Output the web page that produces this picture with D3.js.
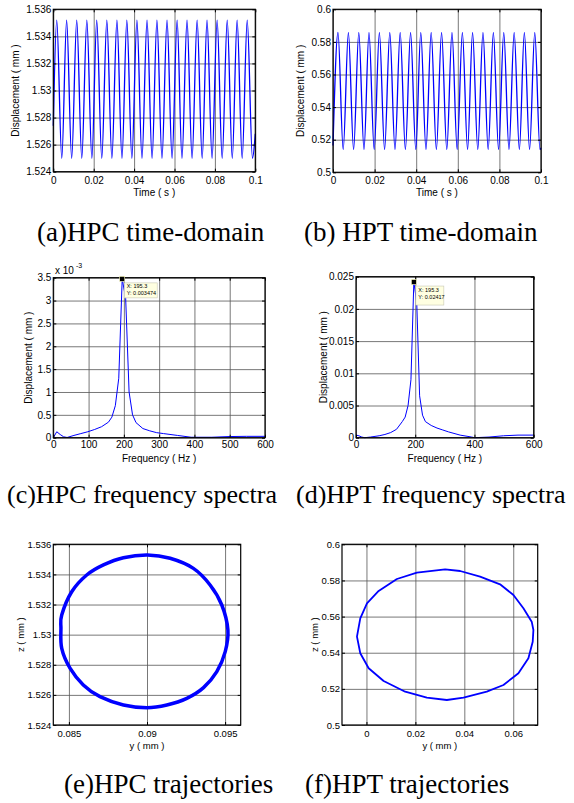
<html>
<head>
<style type="text/css">
	body { margin: 0; background: #fff; }
	text { font-family: "Liberation Sans", Arial, sans-serif; fill: #000; }
	.cap { font-family: "Liberation Serif", "Times New Roman", serif; }
	.grid line { stroke: #555; stroke-width: 0.8; }
	.grid path { display: none; }
	.ax path { display: none; }
	.ax line { stroke: #000; }
	.frame { fill: none; stroke: #000; stroke-width: 1.2; }
	.trace { fill: none; stroke: #0000ff; }
</style>
<script src="https://d3js.org/d3.v7.min.js"></script>
</head>
<body>
<script type="text/javascript">

// (a) HPC time-domain : extrema of the displacement signal
var hpcT = [0, 0.0017, 0.0042, 0.0066, 0.0091, 0.0116, 0.0141, 0.0166, 0.0191, 0.0215, 0.0240,
	0.0265, 0.0290, 0.0315, 0.0340, 0.0364, 0.0389, 0.0414, 0.0439, 0.0464, 0.0489,
	0.0513, 0.0538, 0.0563, 0.0588, 0.0613, 0.0637, 0.0662, 0.0687, 0.0712, 0.0737,
	0.0761, 0.0786, 0.0811, 0.0836, 0.0861, 0.0886, 0.0910, 0.0935, 0.0960, 0.0986, 0.1];
var hpcDisp = [1.5274, 1.5352, 1.5250, 1.5352, 1.5250, 1.5352, 1.5250, 1.5352, 1.5250, 1.5352, 1.5250,
	1.5352, 1.5250, 1.5352, 1.5250, 1.5352, 1.5250, 1.5352, 1.5250, 1.5352, 1.5250,
	1.5352, 1.5250, 1.5352, 1.5250, 1.5352, 1.5250, 1.5352, 1.5250, 1.5352, 1.5250,
	1.5352, 1.5250, 1.5352, 1.5250, 1.5352, 1.5250, 1.5352, 1.5250, 1.5352, 1.5250, 1.5268];

// (b) HPT time-domain
var hptT = [0, 0.0024, 0.0049, 0.0074, 0.0099, 0.0124, 0.0149, 0.0173, 0.0198, 0.0223, 0.0248,
	0.0273, 0.0298, 0.0323, 0.0348, 0.0373, 0.0398, 0.0422, 0.0447, 0.0472, 0.0497,
	0.0522, 0.0547, 0.0572, 0.0597, 0.0622, 0.0647, 0.0671, 0.0696, 0.0721, 0.0746,
	0.0771, 0.0796, 0.0821, 0.0846, 0.0871, 0.0896, 0.0920, 0.0945, 0.0970, 0.0995, 0.1];
var hptDisp = [0.5165, 0.5859, 0.5139, 0.5859, 0.5139, 0.5859, 0.5139, 0.5859, 0.5139, 0.5859, 0.5139,
	0.5859, 0.5139, 0.5859, 0.5139, 0.5859, 0.5139, 0.5859, 0.5139, 0.5859, 0.5139,
	0.5859, 0.5139, 0.5859, 0.5139, 0.5859, 0.5139, 0.5859, 0.5139, 0.5859, 0.5139,
	0.5859, 0.5139, 0.5859, 0.5139, 0.5859, 0.5139, 0.5859, 0.5139, 0.5859, 0.5139, 0.5150];

// (c) HPC spectrum (amplitude x 1e-3 mm)
var hpcFreq = [0, 9.8, 19.5, 29.3, 39.1, 58.6, 78.1, 97.7, 117.2, 136.7, 156.3, 166.0, 175.8, 185.5,
	195.3, 205.1, 214.8, 224.6, 234.4, 253.9, 273.4, 293.0, 312.5, 351.6, 390.6, 449.2, 498.0, 547.0, 600];
var hpcAmp = [0, 0.13, 0.07, 0.02, 0.005, 0.05, 0.09, 0.13, 0.18, 0.24, 0.34, 0.45, 0.7, 1.3,
	3.474, 3.05, 1.0, 0.5, 0.33, 0.2, 0.15, 0.11, 0.09, 0.05, 0.01, 0.01, 0.025, 0.03, 0.03];

// (d) HPT spectrum (mm)
var hptFreq = [0, 9.8, 19.5, 29.3, 48.8, 78.1, 97.7, 117.2, 136.7, 156.3, 166.0, 175.8, 185.5,
	195.3, 205.1, 214.8, 224.6, 234.4, 253.9, 273.4, 293.0, 312.5, 351.6, 390.6, 400, 449.2, 498.0, 547.0, 600];
var hptAmp = [0.0004, 0.0003, 0.0001, 0, 0.0001, 0.0003, 0.0005, 0.0008, 0.0013, 0.0025, 0.0032, 0.005, 0.009,
	0.02417, 0.021, 0.0065, 0.0035, 0.0025, 0.0019, 0.0015, 0.0012, 0.0009, 0.0004, 0.0001, 0, 0.0001, 0.0003, 0.0004, 0.0004];

// (e) HPC trajectory, y vs z
var hpcOrbY = [0.08449, 0.08454, 0.08507, 0.08592, 0.08699, 0.08849, 0.08999, 0.09127, 0.09255, 0.09362, 0.09447, 0.09501,
	0.09518, 0.09479, 0.09404, 0.09297, 0.09148, 0.09003, 0.08849, 0.08721, 0.08614, 0.08518, 0.08454];
var hpcOrbZ = [1.53042, 1.52909, 1.52777, 1.52666, 1.52588, 1.52533, 1.52515, 1.52533, 1.52577, 1.52648, 1.52754, 1.52887,
	1.53031, 1.53197, 1.5333, 1.5344, 1.53507, 1.53529, 1.53511, 1.53463, 1.53396, 1.53285, 1.53131];

// (f) HPT trajectory
var hptOrbY = [-0.00388, -0.00253, 0.0002, 0.00498, 0.01245, 0.02061, 0.03216, 0.03829, 0.04645, 0.05461, 0.06008, 0.06416, 0.06755,
	0.06824, 0.06796, 0.0662, 0.06212, 0.056, 0.04918, 0.03967, 0.03286, 0.02469, 0.01584, 0.00702, 0.0009, -0.00253];
var hptOrbZ = [0.54887, 0.55905, 0.56735, 0.57416, 0.5808, 0.58428, 0.58616, 0.58522, 0.58207, 0.57786, 0.57194, 0.56458, 0.55717,
	0.55257, 0.5461, 0.53691, 0.52861, 0.52214, 0.51843, 0.51511, 0.51383, 0.51511, 0.51843, 0.52435, 0.53138, 0.53968];

// tick values and labels
var timeTicks = [0, 0.02, 0.04, 0.06, 0.08, 0.1];
var timeLabels = ["0", "0.02", "0.04", "0.06", "0.08", "0.1"];
var hpcZTicks = [1.524, 1.526, 1.528, 1.53, 1.532, 1.534, 1.536];
var hpcZLabels = ["1.524", "1.526", "1.528", "1.53", "1.532", "1.534", "1.536"];
var hptZTicks = [0.5, 0.52, 0.54, 0.56, 0.58, 0.6];
var hptZLabels = ["0.5", "0.52", "0.54", "0.56", "0.58", "0.6"];
var freqTicksC = [0, 100, 200, 300, 400, 500, 600];
var freqTicksD = [0, 200, 400, 600];
var ampTicksC = [0, 0.5, 1, 1.5, 2, 2.5, 3, 3.5];
var ampLabelsC = ["0", "0.5", "1", "1.5", "2", "2.5", "3", "3.5"];
var ampTicksD = [0, 0.005, 0.01, 0.015, 0.02, 0.025];
var ampLabelsD = ["0", "0.005", "0.01", "0.015", "0.02", "0.025"];
var hpcOrbYTicks = [0.085, 0.09, 0.095];
var hpcOrbYLabels = ["0.085", "0.09", "0.095"];
var hptOrbYTicks = [0, 0.02, 0.04, 0.06];
var hptOrbYLabels = ["0", "0.02", "0.04", "0.06"];

var captions = ["(a)HPC time-domain", "(b) HPT time-domain", "(c)HPC frequency spectra",
	"(d)HPT frequency spectra", "(e)HPC trajectories", "(f)HPT trajectories"];

var svg = d3.select('body').append('svg')
	.attr('width', 574)
	.attr('height', 803);

function zip(a, b) {
	return a.map(function(d, i) { return [d, b[i]]; });
}

function draw_panel(p) {
	var g = svg.append('g');
	var x = d3.scaleLinear().domain(p.xd).range([p.l, p.r]);
	var y = d3.scaleLinear().domain(p.yd).range([p.b, p.t]);
	var w = p.r - p.l, h = p.b - p.t;

	// grid
	g.append('g').attr('class', 'grid')
		.attr('transform', 'translate(0,' + p.b + ')')
		.call(d3.axisBottom(x).tickValues(p.xt).tickSize(-h).tickFormat(''));
	g.append('g').attr('class', 'grid')
		.attr('transform', 'translate(' + p.l + ',0)')
		.call(d3.axisLeft(y).tickValues(p.yt).tickSize(-w).tickFormat(''));

	// trace
	g.append('path')
		.attr('class', 'trace')
		.attr('stroke-width', p.sw)
		.attr('stroke-linejoin', 'round')
		.attr('d', d3.line()
			.x(function(d) { return x(d[0]); })
			.y(function(d) { return y(d[1]); })
			.curve(p.curve)(p.data));

	// axes with inside ticks
	var fs = p.fs || 10;
	var bx = g.append('g').attr('class', 'ax')
		.attr('transform', 'translate(0,' + p.b + ')')
		.call(d3.axisBottom(x).tickValues(p.xt).tickSize(-3).tickPadding(p.xpad || 5)
			.tickFormat(function(d, i) { return p.xl[i]; }));
	bx.selectAll('text').style('font-size', fs + 'px');
	var ly = g.append('g').attr('class', 'ax')
		.attr('transform', 'translate(' + p.l + ',0)')
		.call(d3.axisLeft(y).tickValues(p.yt).tickSize(-3).tickPadding(2)
			.tickFormat(function(d, i) { return p.yl[i]; }));
	ly.selectAll('text').style('font-size', fs + 'px');
	g.append('g').attr('class', 'ax')
		.attr('transform', 'translate(0,' + p.t + ')')
		.call(d3.axisTop(x).tickValues(p.xt).tickSize(-3).tickFormat(''));
	g.append('g').attr('class', 'ax')
		.attr('transform', 'translate(' + p.r + ',0)')
		.call(d3.axisRight(y).tickValues(p.yt).tickSize(-3).tickFormat(''));

	g.append('rect').attr('class', 'frame')
		.attr('x', p.l).attr('y', p.t).attr('width', w).attr('height', h);

	// axis titles
	g.append('text')
		.attr('x', (p.l + p.r) / 2).attr('y', p.xty)
		.attr('text-anchor', 'middle')
		.style('font-size', fs + 'px')
		.text(p.xtitle);
	g.append('text')
		.attr('transform', 'translate(' + p.ytx + ',' + (p.t + p.b) / 2 + ') rotate(-90)')
		.attr('text-anchor', 'middle')
		.style('font-size', fs + 'px')
		.text(p.ytitle);

	return {x: x, y: y, g: g};
}

function datatip(pn, fx, fy, bw, bh, l1, l2) {
	var mx = pn.x(fx), my = pn.y(fy);
	pn.g.append('rect')
		.attr('x', mx + 2).attr('y', my + 4)
		.attr('width', bw).attr('height', bh)
		.attr('fill', '#ffffe1').attr('stroke', '#c8c8b4').attr('stroke-width', 0.6);
	pn.g.append('rect')
		.attr('x', mx - 2.5).attr('y', my - 2.5)
		.attr('width', 5).attr('height', 5)
		.attr('fill', '#000').attr('stroke', '#ffffc0').attr('stroke-width', 0.6);
	pn.g.append('text').attr('x', mx + 4.5).attr('y', my + 9.5)
		.style('font-size', '5.5px').text(l1);
	pn.g.append('text').attr('x', mx + 4.5).attr('y', my + 16.5)
		.style('font-size', '5.5px').text(l2);
}

draw_panel({l: 53.3, r: 255.3, t: 9.3, b: 171.7, xd: [0, 0.1], yd: [1.524, 1.536],
	xt: timeTicks, xl: timeLabels, yt: hpcZTicks, yl: hpcZLabels,
	xtitle: 'Time ( s )', xty: 196, ytitle: 'Displacement ( mm )', ytx: 19,
	data: zip(hpcT, hpcDisp), curve: d3.curveMonotoneX, sw: 1.3});

draw_panel({l: 333, r: 541, t: 9.3, b: 172.3, xd: [0, 0.1], yd: [0.5, 0.6],
	xt: timeTicks, xl: timeLabels, yt: hptZTicks, yl: hptZLabels,
	xtitle: 'Time ( s )', xty: 196, ytitle: 'Displacement ( mm )', ytx: 304,
	data: zip(hptT, hptDisp), curve: d3.curveMonotoneX, sw: 1.3});

var pc = draw_panel({l: 53.3, r: 265, t: 277.7, b: 437.7, xd: [0, 600], yd: [0, 3.5],
	xt: freqTicksC, xl: freqTicksC.map(String), yt: ampTicksC, yl: ampLabelsC,
	xtitle: 'Frequency ( Hz )', xty: 462, ytitle: 'Displacement ( mm )', ytx: 32, xpad: 3.5,
	data: zip(hpcFreq, hpcAmp), curve: d3.curveLinear, sw: 1});
pc.g.append('text').attr('x', 55).attr('y', 273.5).style('font-size', '10px').text('x 10');
pc.g.append('text').attr('x', 76).attr('y', 268).style('font-size', '7px').text('-3');
datatip(pc, 195.3, 3.474, 33, 15, 'X: 195.3', 'Y: 0.003474');

var pd = draw_panel({l: 356, r: 533.7, t: 276.7, b: 437.7, xd: [0, 600], yd: [0, 0.025],
	xt: freqTicksD, xl: freqTicksD.map(String), yt: ampTicksD, yl: ampLabelsD,
	xtitle: 'Frequency ( Hz )', xty: 462, ytitle: 'Displacement ( mm )', ytx: 327, xpad: 3.5,
	data: zip(hptFreq, hptAmp), curve: d3.curveLinear, sw: 1});
datatip(pd, 195.3, 0.02417, 28, 19, 'X: 195.3', 'Y: 0.02417');

draw_panel({l: 53.3, r: 240.7, t: 544.3, b: 725, xd: [0.084, 0.096], yd: [1.524, 1.536],
	xt: hpcOrbYTicks, xl: hpcOrbYLabels, yt: hpcZTicks, yl: hpcZLabels,
	xtitle: 'y ( mm )', xty: 749, ytitle: 'z ( mm )', ytx: 24, fs: 9.5,
	data: zip(hpcOrbY, hpcOrbZ), curve: d3.curveCardinalClosed, sw: 3.5});

draw_panel({l: 342, r: 537.7, t: 544.3, b: 725, xd: [-0.01, 0.07], yd: [0.5, 0.6],
	xt: hptOrbYTicks, xl: hptOrbYLabels, yt: hptZTicks, yl: hptZLabels,
	xtitle: 'y ( mm )', xty: 749, ytitle: 'z ( mm )', ytx: 318, fs: 9.5,
	data: zip(hptOrbY, hptOrbZ), curve: d3.curveLinearClosed, sw: 1.8});

// captions
var capX = [37, 304, 7, 296, 64, 305];
var capY = [241, 241, 503, 503, 793, 793];
var capSize = [27, 27, 26, 26, 27, 27];
svg.selectAll('text.cap')
	.data(captions)
	.enter()
	.append('text')
	.attr('class', 'cap')
	.attr('x', function(d, i) { return capX[i]; })
	.attr('y', function(d, i) { return capY[i]; })
	.style('font-size', function(d, i) { return capSize[i] + 'px'; })
	.text(function(d) { return d; });

</script>
</body>
</html>
